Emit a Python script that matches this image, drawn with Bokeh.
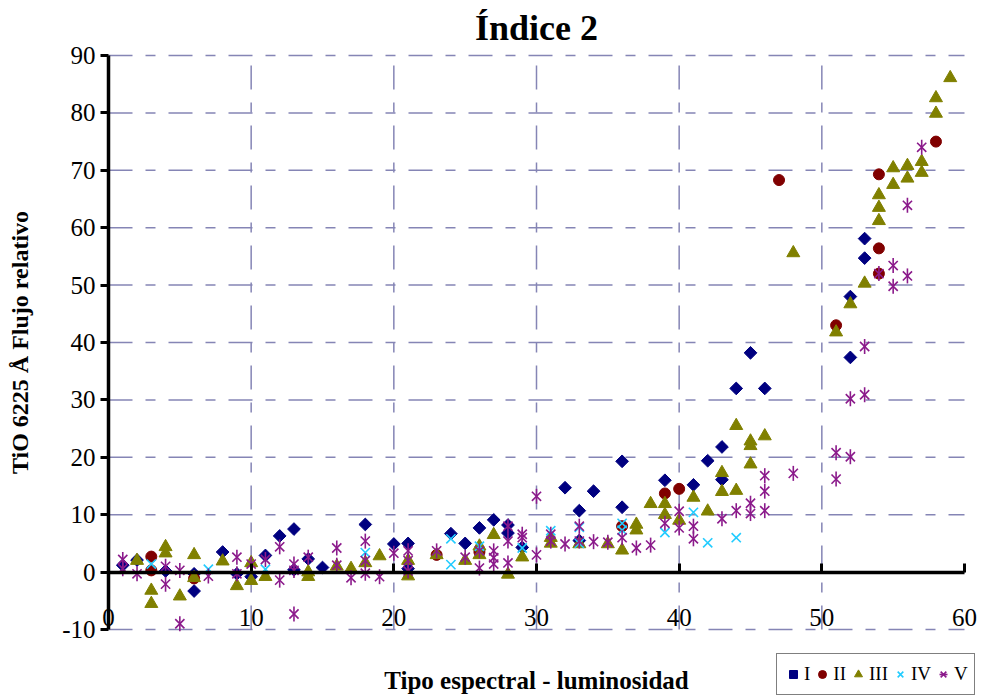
import math
from bokeh.plotting import figure
from bokeh.models import (LinearAxis, FixedTicker, Range1d, Legend, LegendItem, Label)
from bokeh.embed import file_html
from bokeh.resources import INLINE

# ---------------- data ----------------
I_x = [1, 2, 4, 6, 6, 8, 9, 10, 11, 12, 13, 13, 14, 15, 18, 20, 21, 21, 24, 25, 26, 27, 28, 28, 29,
       32, 33, 33, 34, 36, 36, 39, 41, 42, 43, 43, 44, 45, 46, 52, 52, 53, 53]
I_y = [1.2, 2.1, 0.2, -0.3, -3.3, 3.5, -0.3, -0.8, 2.9, 6.3, 7.5, 0.4, 2.3, 0.8, 8.3, 4.9, 5.0, 0.6,
       6.7, 5.0, 7.7, 9.1, 8.2, 6.8, 4.3, 14.7, 10.7, 5.5, 14.1, 19.3, 11.3, 16.0, 15.2, 19.4, 21.8,
       16.1, 32.0, 38.2, 32.0, 37.4, 48.0, 54.7, 58.1]

II_x = [3, 3, 6, 23, 26, 36, 39, 40, 47, 51, 54, 54, 54, 58]
II_y = [2.7, 0.3, -1.1, 3.0, 3.5, 8.0, 13.7, 14.5, 68.3, 43.0, 69.3, 56.4, 52.0, 75.0]

III_x = [2, 3, 3, 4, 4, 5, 6, 6, 8, 9, 10, 10, 11, 14, 14, 16, 17, 18, 19, 21, 21, 23, 25, 26, 26,
         27, 28, 29, 31, 31, 33, 35, 36, 37, 37, 38, 39, 39, 40, 41, 42, 43, 43, 44, 44, 45, 45, 45,
         46, 48, 51, 52, 53, 54, 54, 54, 55, 55, 56, 56, 57, 57, 58, 58, 59]
III_y = [2.0, -3.2, -5.5, 4.4, 3.3, -4.2, 3.0, -1.0, 1.9, -2.4, 1.6, -1.5, -0.8, -0.8, 0.0, 1.0, 0.6,
         1.6, 2.8, 2.0, -0.7, 3.0, 2.0, 4.5, 3.0, 6.5, -0.4, 2.6, 5.0, 6.0, 4.9, 4.9, 3.8, 8.3, 7.3,
         11.9, 11.9, 10.0, 9.0, 13.0, 10.6, 17.3, 14.0, 25.5, 14.2, 22.8, 22.0, 18.8, 23.7, 55.6,
         41.8, 46.7, 50.3, 61.2, 63.5, 65.7, 67.5, 70.4, 68.6, 70.8, 69.6, 71.5, 79.9, 82.6, 86.1]

IV_x = [3, 7, 11, 18, 24, 24, 26, 29, 31, 33, 33, 36, 36, 39, 41, 42, 44]
IV_y = [1.4, 0.5, 0.5, 3.4, 5.8, 1.3, 4.5, 4.2, 7.2, 7.8, 5.0, 8.5, 7.3, 6.9, 10.4, 5.1, 6.0]

V_x = [1, 1, 2, 4, 4, 5, 5, 7, 9, 9, 10, 11, 12, 12, 13, 13, 13, 14, 16, 16, 17, 18, 18, 18, 19,
       20, 21, 21, 21, 23, 25, 26, 26, 27, 27, 27, 28, 28, 28, 29, 29, 30, 30, 31, 31, 32, 33, 33,
       34, 35, 36, 37, 38, 39, 40, 40, 41, 41, 43, 44, 45, 45, 46, 46, 46, 48, 51, 51, 52, 52, 53,
       53, 54, 55, 55, 56, 56, 57]
V_y = [2.2, 0.6, -0.3, 1.0, -2.1, 0.3, -9.0, -0.7, 2.6, -0.3, 1.4, 2.2, 4.4, -1.4, 1.4, 0.3, -7.3,
       2.6, 4.2, 1.2, -1.0, 5.4, 2.0, -0.2, -0.8, 3.3, 3.7, 2.0, 0.2, 3.7, 2.6, 3.7, 0.7, 3.7, 2.5,
       1.4, 8.0, 5.4, 1.6, 6.6, 6.0, 13.2, 3.0, 6.6, 5.4, 4.9, 8.0, 5.4, 5.3, 5.2, 6.0, 4.2, 4.7,
       8.5, 10.6, 7.7, 8.0, 5.8, 9.3, 10.7, 12.0, 10.2, 16.8, 14.1, 10.7, 17.2, 20.8, 16.2, 20.1,
       30.2, 30.9, 39.3, 52.0, 53.4, 49.8, 51.6, 63.9, 74.0]

x_ticks = [0, 10, 20, 30, 40, 50, 60]
y_ticks = [-10, 0, 10, 20, 30, 40, 50, 60, 70, 80, 90]
x_grid_ticks = [10, 20, 30, 40, 50]

title_text = "Índice 2"
x_label = "Tipo espectral - luminosidad"
y_label = "TiO 6225 Å Flujo relativo"
series_labels = ["I", "II", "III", "IV", "V"]

# ---------------- styling ----------------
SERIF = "Liberation Serif"
C_I, C_II, C_III, C_IV, C_V = "#000080", "#800000", "#808000", "#22CCFF", "#8B1A8B"
GRID_C = "#8585B5"
DASH = "24 13 10 13"

W, H = 981, 695
# pixel geometry of the plot area (0..60 spans 108..964 px, 90..-10 spans 55..629 px)
PX_X0, PX_X60 = 108, 964
PX_Y90, PX_YM10 = 55, 629
ux = (PX_X60 - PX_X0) / (x_ticks[-1] - x_ticks[0])
uy = (PX_YM10 - PX_Y90) / (y_ticks[-1] - y_ticks[0])
x_lo = x_ticks[0] - PX_X0 / ux
x_hi = x_ticks[-1] + (W - PX_X60) / ux
y_hi = y_ticks[-1] + PX_Y90 / uy
y_lo = y_ticks[-1] - (H - PX_Y90) / uy

p = figure(width=W, height=H, output_backend="svg", toolbar_location=None,
           x_range=Range1d(x_lo, x_hi), y_range=Range1d(y_lo, y_hi),
           x_axis_location=None, y_axis_location=None,
           min_border_left=0, min_border_right=0, min_border_top=0, min_border_bottom=0)
p.grid.visible = False
p.outline_line_color = None
p.background_fill_color = "white"
p.border_fill_color = "white"

# grid lines (drawn from the tick lists)
p.segment(x0=x_grid_ticks, x1=x_grid_ticks, y0=[y_ticks[0]] * len(x_grid_ticks),
          y1=[y_ticks[-1]] * len(x_grid_ticks), line_color=GRID_C, line_width=1.5, line_dash=DASH)
p.segment(x0=[x_ticks[0]] * len(y_ticks), x1=[x_ticks[-1]] * len(y_ticks), y0=y_ticks, y1=y_ticks,
          line_color=GRID_C, line_width=1.5, line_dash=DASH)

yax = LinearAxis(ticker=FixedTicker(ticks=y_ticks), fixed_location=x_ticks[0],
                 bounds=(y_ticks[0], y_ticks[-1]), axis_label=y_label,
                 major_label_overrides={t: str(t) for t in y_ticks},
                 axis_line_width=3.5, axis_line_color="black",
                 major_tick_out=8, major_tick_in=0, major_tick_line_width=3,
                 major_tick_line_color="black", minor_tick_line_color=None,
                 major_label_text_font=SERIF, major_label_text_font_size="25px",
                 major_label_text_color="black", major_label_standoff=5,
                 axis_label_text_font=SERIF, axis_label_text_font_size="24px",
                 axis_label_text_font_style="bold", axis_label_text_color="black",
                 axis_label_standoff=26)
p.add_layout(yax, "left")

xax = LinearAxis(ticker=FixedTicker(ticks=x_ticks), fixed_location=0,
                 bounds=(x_ticks[0], x_ticks[-1]),
                 axis_line_width=3.5, axis_line_color="black",
                 major_tick_in=9, major_tick_out=0, major_tick_line_width=3,
                 major_tick_line_color="black", minor_tick_line_color=None,
                 major_label_text_font=SERIF, major_label_text_font_size="25px",
                 major_label_text_color="black", major_label_standoff=37)
p.add_layout(xax, "below")

mid_x = (x_ticks[0] + x_ticks[-1]) / 2
p.add_layout(Label(x=mid_x, y=y_ticks[-1], y_offset=28, text=title_text,
                   text_align="center", text_baseline="middle", text_font=SERIF,
                   text_font_size="36px", text_font_style="bold", text_color="black"))
p.add_layout(Label(x=mid_x, y=y_ticks[0], y_offset=-51, text=x_label,
                   text_align="center", text_baseline="middle", text_font=SERIF,
                   text_font_size="25px", text_font_style="bold", text_color="black"))

r1 = p.scatter(I_x, I_y, marker="square", angle=math.pi / 4, size=9,
               fill_color=C_I, line_color=C_I)
r2 = p.scatter(II_x, II_y, marker="circle", size=11, fill_color=C_II, line_color=C_II)
r3 = p.scatter(III_x, III_y, marker="triangle", size=13, fill_color=C_III, line_color=C_III)
r4 = p.scatter(IV_x, IV_y, marker="x", size=13, line_color=C_IV, line_width=1.6)
r5a = p.scatter(V_x, V_y, marker="x", size=13, line_color=C_V, line_width=1.6)
r5b = p.scatter(V_x, V_y, marker="dash", angle=math.pi / 2, size=15, line_color=C_V, line_width=1.6)

legend = Legend(items=[LegendItem(label=series_labels[0], renderers=[r1]),
                       LegendItem(label=series_labels[1], renderers=[r2]),
                       LegendItem(label=series_labels[2], renderers=[r3]),
                       LegendItem(label=series_labels[3], renderers=[r4]),
                       LegendItem(label=series_labels[4], renderers=[r5a, r5b])],
                orientation="horizontal", location=(776, 0),
                label_text_font=SERIF, label_text_font_size="19px", label_text_color="black",
                glyph_width=20, glyph_height=28, label_standoff=1, spacing=2,
                label_width=5, padding=6, margin=0,
                border_line_color="black", border_line_width=1,
                background_fill_color="white", background_fill_alpha=1)
p.add_layout(legend, "center")

open("out.html", "w").write(file_html(p, INLINE))
